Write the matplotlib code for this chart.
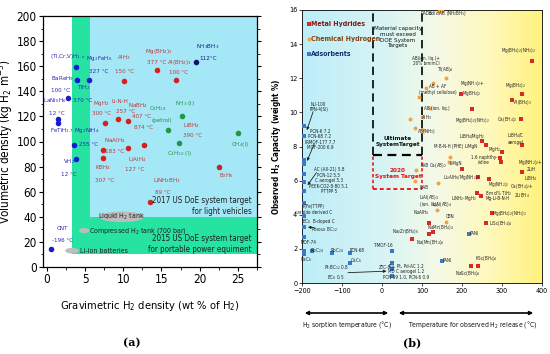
import matplotlib
matplotlib.use('Agg')
import matplotlib.pyplot as plt
import numpy as np
from matplotlib.patches import Rectangle, Ellipse, FancyArrowPatch
from matplotlib.colors import LinearSegmentedColormap

plt.rcParams['font.family'] = ['DejaVu Sans']
plt.rcParams['font.stretch'] = 'condensed'
plt.rcParams['mathtext.default'] = 'regular'

# ---------------- Panel (a) data ----------------
a_xticks = [0, 5, 10, 15, 20, 25]
a_yticks = [0, 20, 40, 60, 80, 100, 120, 140, 160, 180, 200]
# metal hydrides (blue, room temp)
blue_x = [3.8, 4.0, 5.5, 2.75, 1.4, 1.5, 3.6, 3.8, 0.6]
blue_y = [159.5, 149, 149, 135, 118, 115, 97.6, 86, 14.5]
# NH3BH3
navy_x = [19.5]
navy_y = [163]
# complex hydrides (red)
red_x = [10.1, 14.4, 16.9, 7.6, 9.3, 10.6, 7.4, 7.4, 10.6, 12.7, 13.5, 22.5]
red_y = [148.5, 156.6, 149, 115, 118, 116, 93, 86.5, 94.5, 97.6, 51.5, 79.5]
# liquid fuels (green)
green_x = [15.8, 17.7, 17.3, 25.0]
green_y = [109, 120.5, 98.5, 107]

# ---------------- Panel (b) data ----------------
b_xticks = [-200, -100, 0, 100, 200, 300, 400]
b_yticks = [0, 2, 4, 6, 8, 10, 12, 14, 16]
ads_x = [-196, -196, -196, -196, -196, -196, -196, -196, -196, -196, -196, -196, -196,
         -175, -125, -80, -80, 25, 25, 25, 25, 150, 218]
ads_y = [9.2, 8.6, 7.2, 7.0, 6.4, 5.9, 5.4, 4.7, 3.9, 3.3, 2.7, 1.9, 1.7,
         1.9, 1.75, 1.75, 1.2, 1.85, 1.2, 0.8, 0.4, 1.3, 2.9]
chem_x = [143, 150, 160, 128, 110, 120, 93, 100, 70, 82, 103, 85, 168, 170, 140, 137, 160, 83]
chem_y = [15.95, 15.95, 12.0, 11.75, 11.45, 10.25, 10.9, 9.7, 9.6, 9.1, 8.95, 6.6, 7.1, 7.4, 5.85, 4.3, 3.6, 6.0]
mh_x = [375, 198, 350, 325, 225, 347, 250, 260, 300, 350, 295, 200, 240, 268, 298, 350,
        238, 247, 275, 260, 118, 118, 128, 76, 223, 240]
mh_y = [13.0, 11.1, 11.05, 10.7, 10.2, 9.6, 8.35, 8.1, 7.7, 8.1, 7.3, 6.7, 6.2, 6.1, 7.1, 6.5,
        5.25, 5.1, 4.1, 3.5, 3.5, 2.9, 3.0, 2.55, 1.0, 1.0]

# ---------------- figure ----------------
fig = plt.figure(figsize=(5.5, 3.54), dpi=100)
W, H = 550.0, 354.0

# ================= Panel (a) =================
axa = fig.add_axes([43 / W, 1 - 267 / H, (257 - 43) / W, (267 - 16) / H])
axa.set_xlim(-0.5, 27.5)
axa.set_ylim(0, 200)
GREEN = '#26E3A2'
LBLUE = '#A4E7F7'
axa.add_patch(Rectangle((3.3, 10.5), 27.5 - 3.3, 200 - 10.5, facecolor=GREEN, edgecolor='none', zorder=0))
axa.add_patch(Rectangle((5.6, 39.5), 27.5 - 5.6, 200 - 39.5, facecolor=LBLUE, edgecolor='none', zorder=0.5))

BC = '#1A1AD0'
RC = '#D42020'
GC = '#1E9A3C'
ms = 16
axa.scatter(blue_x, blue_y, s=ms, color=BC, zorder=3, linewidths=0)
axa.scatter(navy_x, navy_y, s=ms, color='#101070', zorder=3, linewidths=0)
axa.scatter(red_x, red_y, s=ms, color=RC, zorder=3, linewidths=0)
axa.scatter(green_x, green_y, s=ms, color=GC, zorder=3, linewidths=0)

# grey ellipses (storage systems)
axa.add_patch(Ellipse((9.8, 40), 5.9, 8.5, facecolor='#BDBDBD', edgecolor='none', zorder=2))
axa.add_patch(Ellipse((4.9, 29), 1.4, 4.0, facecolor='#BDBDBD', edgecolor='none', zorder=2))
axa.add_patch(Ellipse((3.3, 13.0), 1.8, 4.5, facecolor='#BDBDBD', edgecolor='none', zorder=2))

fs = 4.5
LBC = '#2A2AB0'
LRC = '#C03A3A'
LGC = '#23923F'
labels_a = [
    ('(Ti,Cr,V)H$_{1.x}$', 2.8, 168, LBC), ('Mg$_2$FeH$_6$', 6.8, 166.5, LBC), ('327 °C', 6.8, 156, LBC),
    ('BaReH$_9$', 2.0, 150, LBC), ('100 °C', 1.8, 141, LBC), ('TiH$_2$', 4.8, 143, LBC),
    ('370 °C', 4.7, 132.5, LBC), ('LaNi$_5$H$_6$', 1.0, 132.5, LBC), ('12 °C', 1.3, 122, LBC),
    ('FeTiH$_{1.7}$', 2.0, 109, LBC), ('Mg$_2$NiH$_4$', 5.2, 109, LBC), ('255 °C', 5.5, 97.6, LBC),
    ('VH$_2$', 2.9, 84, LBC), ('12 °C', 2.9, 74, LBC), ('CNT', 2.0, 30.4, LBC), ('-196 °C', 2.0, 21, LBC),
    ('NH$_3$BH$_3$', 21.0, 176, '#1A1A80'), ('112°C', 21.1, 166, '#1A1A80'),
    ('AlH$_3$', 10.1, 166.5, LRC), ('150 °C', 10.1, 156, LRC),
    ('Mg(BH$_4$)$_2$', 14.7, 172, LRC), ('377 °C', 14.4, 163, LRC),
    ('Al(BH$_4$)$_3$', 17.4, 163, LRC), ('100 °C', 17.2, 155, LRC),
    ('MgH$_2$', 7.2, 130, LRC), ('300 °C', 7.2, 122, LRC),
    ('Li-N-H', 9.6, 132, LRC), ('257 °C', 10.3, 124, LRC),
    ('NaBH$_4$', 11.9, 128.6, LRC), ('407 °C', 12.4, 120, LRC), ('874 °C', 12.6, 111, LRC),
    ('NaAlH$_4$', 8.9, 101, LRC), ('183 °C', 8.9, 92, LRC),
    ('LiAlH$_4$', 11.8, 86, LRC), ('127 °C', 11.5, 78, LRC),
    ('KBH$_4$', 7.4, 79, LRC), ('307 °C', 7.6, 69, LRC),
    ('LiNH$_2$BH$_3$', 15.7, 68.5, LRC), ('89 °C', 15.1, 59, LRC),
    ('B$_2$H$_6$', 23.5, 73, LRC), ('LiBH$_4$', 19.0, 112.7, LRC), ('390 °C', 19.0, 104.8, LRC),
    ('C$_8$H$_{18}$', 14.5, 126, LGC), ('(petrol)', 15.0, 117, LGC),
    ('NH$_3$ (l)', 18.1, 130, LGC), ('C$_4$H$_{10}$ (l)', 17.4, 90.5, LGC), ('CH$_4$(l)', 25.3, 97.6, LGC),
]
for t, x, y, c in labels_a:
    axa.text(x, y, t, fontsize=fs, color=c, ha='center', va='center', zorder=4)

axa.text(26.8, 48.5, '2017 US DoE system target\nfor light vehicles', fontsize=5.8, ha='right',
         va='center', color='#202020', linespacing=1.35, zorder=4)
axa.text(26.8, 18.5, '2015 US DoE system target\nfor portable power equiment', fontsize=5.8, ha='right',
         va='center', color='#202020', linespacing=1.35, zorder=4)
axa.text(9.8, 40, 'Liquid H$_2$ tank', fontsize=5.0, ha='center', va='center', color='#202020', zorder=4)
axa.text(5.5, 29, 'Compressed H$_2$ tank (700 bar)', fontsize=5.0, ha='left', va='center', color='#202020', zorder=4)
axa.text(4.3, 12.7, 'Li-ion batteries', fontsize=5.0, ha='left', va='center', color='#202020', zorder=4)

axa.set_xticks(a_xticks)
axa.set_yticks(a_yticks)
axa.set_xticks(np.arange(0, 27.6, 2.5), minor=True)
axa.set_yticks(np.arange(0, 201, 10), minor=True)
axa.tick_params(axis='both', which='major', labelsize=8.5, length=3, width=0.8, direction='out', pad=1.5)
axa.tick_params(axis='both', which='minor', length=1.8, width=0.6, direction='out')
axa.tick_params(axis='y', which='both', right=True, direction='out')
for sp in axa.spines.values():
    sp.set_linewidth(0.9)
axa.set_xlabel('Gravimetric H$_2$ density (wt % of H$_2$)', fontsize=8.0, labelpad=9)
axa.set_ylabel('Volumetric density (kg H$_2$ m$^{-3}$)', fontsize=8.4, labelpad=0)

# ================= Panel (b) =================
axb = fig.add_axes([302 / W, 1 - 283 / H, (542 - 302) / W, (283 - 10) / H])
axb.set_xlim(-200, 400)
axb.set_ylim(0, 16)
cmap = LinearSegmentedColormap.from_list('bg', [(0, '#BCEEF9'), (0.35, '#D8F4F4'), (0.55, '#F4FAE8'),
                                                 (0.8, '#FFF8B8'), (1.0, '#FFF27C')])
grad = np.linspace(0, 1, 256).reshape(1, -1)
axb.imshow(grad, extent=[-200, 400, 0, 16], aspect='auto', cmap=cmap, zorder=0, interpolation='bilinear')

# target lines
axb.plot([-22, 100], [7.5, 7.5], color='black', lw=1.6, ls=(0, (4, 2.5)), zorder=2)
axb.plot([-22, -22], [7.5, 16], color='black', lw=1.2, ls=(0, (5, 3)), zorder=2)
axb.plot([100, 100], [7.5, 16], color='black', lw=1.2, ls=(0, (5, 3)), zorder=2)
axb.plot([-22, 100], [5.5, 5.5], color='#E02020', lw=1.4, ls=(0, (2, 1.5)), zorder=2)
axb.plot([-22, -22], [5.5, 7.5], color='#E02020', lw=1.2, ls=(0, (2, 1.5)), zorder=2)
axb.plot([100, 100], [5.5, 7.5], color='#E02020', lw=1.2, ls=(0, (2, 1.5)), zorder=2)
axb.text(40, 14.4, 'Material capacity\nmust exceed\nDOE System\nTargets', fontsize=4.5, ha='center', va='center',
         color='#101010', linespacing=1.15, zorder=4)
axb.text(40, 8.3, 'Ultimate\nSystemTarget', fontsize=4.6, ha='center', va='center', color='#101010',
         fontweight='bold', zorder=4)
axb.text(40, 6.4, '2020\nSystem Target', fontsize=4.6, ha='center', va='center', color='#E01010',
         fontweight='bold', zorder=4)

# markers
axb.scatter(ads_x, ads_y, s=9, marker='s', color='#3B78C8', zorder=3, linewidths=0)
axb.scatter(chem_x, chem_y, s=8, marker='o', color='#F4A040', zorder=3, linewidths=0)
axb.scatter(mh_x, mh_y, s=9, marker='s', color='#D42A2A', zorder=3, linewidths=0)

# legend
axb.scatter([-183], [15.2], s=8, marker='s', color='#D42A2A', zorder=3, linewidths=0)
axb.scatter([-183], [14.3], s=8, marker='o', color='#F4A040', zorder=3, linewidths=0)
axb.scatter([-183], [13.4], s=8, marker='s', color='#3B78C8', zorder=3, linewidths=0)
axb.text(-177, 15.2, 'Metal Hydrides', fontsize=5.0, color='#801818', va='center', fontweight='bold')
axb.text(-177, 14.3, 'Chemical Hydrogen', fontsize=5.0, color='#804010', va='center', fontweight='bold')
axb.text(-177, 13.4, 'Adsorbents', fontsize=5.0, color='#183070', va='center', fontweight='bold')

bfs = 3.3
TC = '#202020'
labels_b = [
    ('NU-100\nPPN-4(Si)', -158, 10.3), ('PCN-6 7.2\nPCN-68 7.2\nIRMOF-177 7.7\nMOF-200 6.9', -155, 8.4),
    ('AC (AX-21) 5.8\nPCN-12 5.5\nC aerogel 5.3\nPEEK-CO2-8-80 5.1\nPTTPP 5', -133, 6.0),
    ('P(Fe(TTPP)\ncarbide derived C', -172, 4.3), ('BC$_8$', -188, 3.6), ('B-doped C\nPorous BC$_{12}$', -145, 3.3),
    ('MOF-74', -184, 2.4), ('CaC$_6$', -190, 1.4), ('RbC$_{24}$', -162, 1.9), ('RbC$_{24}$', -112, 1.9),
    ('PCN-68', -62, 1.9), ('CaC$_6$', -64, 1.3), ('Pt-BC$_{12}$ 0.8\nBC$_8$ 0.5', -115, 0.6),
    ('T-MOF-16', 5, 2.2), ('ZTC-8', 8, 0.9), ('Ru, Pt, Pd-AC 1.2\nMD C aerogel 1.2\nPCN-99 1.0, PCN-6 0.9', 60, 0.65),
    ('PANI', 162, 1.3), ('PANI', 230, 2.9),
    ('DADB', 112, 15.8), ('solid AB (NH$_3$BH$_3$)', 165, 15.8), ('AB(ion. liq.)+\n20% bmimCl', 110, 13.0),
    ('Ti(AB)$_4$', 158, 12.5), ('AB + AF\n(methyl cellulose)', 140, 11.35), ('AB (ion. liq.)', 136, 10.25),
    ('AlH$_3$', 110, 9.7), ('AB(NH$_3$)', 110, 8.9), ('KAB', 106, 6.9), ('Ca(AB)$_2$', 140, 6.9),
    ('LiMgN', 185, 7.0), ('LiAB', 106, 5.6), ('LiAl(AB)$_4$\n(ion. liq.)', 118, 4.85), ('LiAl(AB)$_4$', 150, 4.6),
    ('NaAlH$_4$', 98, 4.15), ('CBN', 170, 3.9), ('NaMn(BH$_4$)$_4$', 145, 3.25), ('Na$_2$Zr(BH$_4$)$_6$', 60, 3.0),
    ('Na(Mn(BH$_4$)$_4$', 120, 2.4), ('KSc(BH$_4$)$_4$', 260, 1.45), ('NaSc(BH$_4$)$_4$', 215, 0.55),
    ('Mg(BH$_4$)$_2$(NH$_3$)$_2$', 340, 13.6), ('Mg(NH$_3$)$_2$+\nMgBH$_4$)$_2$', 225, 11.4),
    ('Mg(BH$_4$)$_2$', 335, 11.6), ('Al(BH$_4$)$_3$', 352, 10.6), ('Mg(BH$_4$)$_2$(NH$_3$)$_2$', 225, 9.5),
    ('Ca(BH$_4$)$_2$', 312, 9.6), ('LiBH$_4$/MgH$_2$', 225, 8.6), ('LiBH$_4$/C\naerogel', 335, 8.5),
    ('M-B-N-H (PHE) LiMgN', 185, 8.0), ('MgH$_2$', 282, 7.8), ('1.6 naphthy-\nridine', 255, 7.2),
    ('Li$_2$AlH$_6$/Mg(NH$_2$)$_2$', 200, 6.2), ('Mg(NH$_2$)$_2$\n8 mol% TiH$_2$', 292, 5.5),
    ('Ca(BH$_4$)$_2$+\n2LiBH$_4$', 350, 5.4), ('LiNH$_2$-MgH$_2$', 205, 4.95), ('Mg-Li-B-N-H', 290, 4.95),
    ('Mg(BH$_4$)$_2$(NH$_3$)$_2$', 318, 4.1), ('LiSc(BH$_4$)$_4$', 298, 3.5),
    ('Mg(NH$_2$)$_2$+\n2LiH', 372, 6.9), ('LiBH$_4$', 372, 6.1),
]
for t, x, y in labels_b:
    axb.text(x, y, t, fontsize=bfs, color=TC, ha='center', va='center', zorder=4, linespacing=1.1)

# adsorbent pointer lines
for (x0, y0, x1, y1) in [(-170, 10.2, -190, 8.8), (-167, 8.3, -190, 7.0), (-160, 6.6, -190, 5.6),
                         (-160, 3.2, -192, 3.3), (-92, 0.6, 18, 0.7)]:
    axb.annotate('', xy=(x1, y1), xytext=(x0, y0),
                 arrowprops=dict(arrowstyle='-|>', lw=0.6, color='#202020', mutation_scale=4), zorder=4)

axb.set_xticks(b_xticks)
axb.set_yticks(b_yticks)
axb.tick_params(axis='both', labelsize=5.2, length=2, width=0.5, pad=1.5)
for sp in axb.spines.values():
    sp.set_linewidth(0.6)
axb.set_ylabel('Observed H$_2$ Capacity (weight %)', fontsize=5.8, fontweight='bold', labelpad=4)

# bottom arrows for panel b
for (x0, x1, tx, txt) in [(302, 391, 347, 'H$_2$ sorption temperature (°C)'),
                           (396, 536, 473, 'Temperature for observed H$_2$ release (°C)')]:
    fig.add_artist(FancyArrowPatch((x0 / W, 1 - 313 / H), (x1 / W, 1 - 313 / H),
                   transform=fig.transFigure, arrowstyle='<|-|>', mutation_scale=5, lw=1.2, color='black'))
    fig.text(tx / W, 1 - 324 / H, txt, fontsize=4.9, ha='center', va='center', color='#101010')

fig.text(132 / W, 1 - 343 / H, '(a)', fontsize=8, fontweight='bold', ha='center', va='center',
         family='DejaVu Serif', stretch='normal')
fig.text(412 / W, 1 - 343 / H, '(b)', fontsize=8, fontweight='bold', ha='center', va='center',
         family='DejaVu Serif', stretch='normal')

fig.savefig('out.png', dpi=100)
